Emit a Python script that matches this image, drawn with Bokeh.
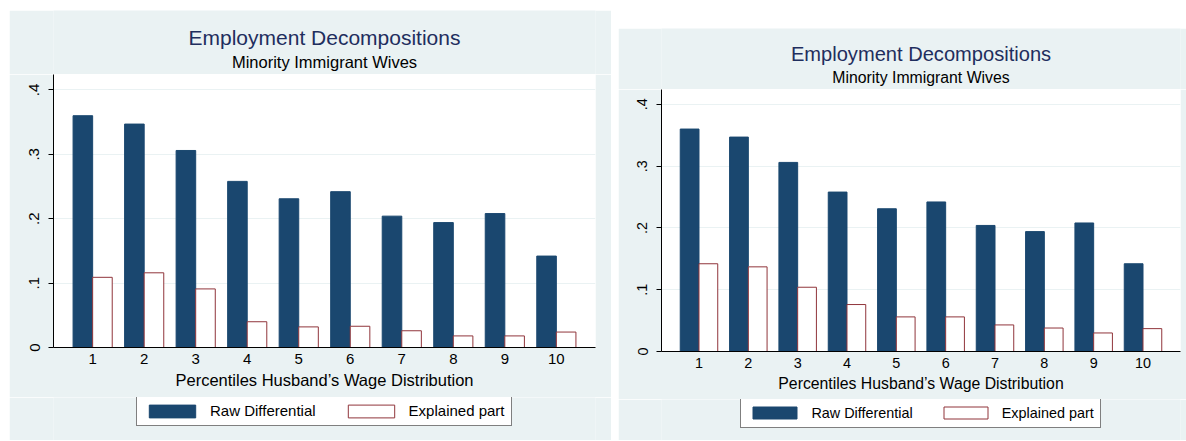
from bokeh.plotting import figure
from bokeh.models import (ColumnDataSource, Range1d, FixedTicker, Label, Legend,
                          LegendItem, Spacer)
from bokeh.layouts import row, column
from bokeh.transform import dodge
from bokeh.embed import file_html
from bokeh.resources import INLINE

# ---------------- data ----------------
categories = [1, 2, 3, 4, 5, 6, 7, 8, 9, 10]
raw_differential = [0.360, 0.347, 0.306, 0.258, 0.231, 0.242, 0.204, 0.194, 0.208, 0.142]
explained_left = [0.109, 0.116, 0.091, 0.040, 0.032, 0.033, 0.026, 0.018, 0.018, 0.024]
explained_right = [0.142, 0.137, 0.104, 0.076, 0.056, 0.056, 0.043, 0.038, 0.030, 0.037]
x_ticks = categories
x_tick_labels = [str(c) for c in categories]
y_ticks = [0, 0.1, 0.2, 0.3, 0.4]
y_tick_labels = ["0", ".1", ".2", ".3", ".4"]
title_text = "Employment Decompositions"
subtitle_text = "Minority Immigrant Wives"
xlabel_text = "Percentiles Husband\u2019s Wage Distribution"
legend_labels = ["Raw Differential", "Explained part"]

NAVY = "#1A476F"
MAROON = "#90353B"
PANEL = "#EAF2F3"
TITLE_C = "#1F2E5E"
FONT = "Liberation Sans"
NAN = float("nan")


def px(v):
    return f"{v:.1f}px"


def strip(width, height, frame_w):
    # text strip; its frame is aligned by the column layout with the plot frame
    f = figure(width=width, height=height, output_backend="svg", toolbar_location=None,
               x_range=Range1d(0, frame_w), y_range=Range1d(0, height),
               x_axis_type=None, y_axis_type=None, min_border=0)
    f.background_fill_color = PANEL
    f.border_fill_color = PANEL
    f.outline_line_color = None
    return f


def label(f, x, y, text, size, color="black"):
    f.add_layout(Label(x=x, y=y, text=text, text_align="center", text_baseline="middle",
                       text_font=FONT, text_font_size=px(size), text_color=color))


def main_plot(explained, width, height, mb, s):
    p = figure(width=width, height=height, output_backend="svg", toolbar_location=None,
               x_range=Range1d(0.24, 10.76), y_range=Range1d(0, 0.424),
               min_border_left=mb[0], min_border_right=mb[1],
               min_border_top=0, min_border_bottom=mb[2])
    p.border_fill_color = PANEL
    p.background_fill_color = "white"
    p.outline_line_color = None

    src = ColumnDataSource(dict(x=categories, raw=raw_differential, exp=explained))
    p.vbar(x=dodge("x", -0.19, range=p.x_range), top="raw", bottom=0, width=0.38,
           source=src, fill_color=NAVY, line_color=NAVY, line_width=1)
    p.vbar(x=dodge("x", 0.19, range=p.x_range), top="exp", bottom=0, width=0.38,
           source=src, fill_color="white", line_color=MAROON, line_width=1)

    xa = p.xaxis[0]
    xa.ticker = FixedTicker(ticks=x_ticks)
    xa.major_label_overrides = dict(zip(x_ticks, x_tick_labels))
    xa.major_tick_in = 0
    xa.major_tick_out = 0
    xa.minor_tick_line_color = None
    xa.axis_line_color = "black"
    xa.major_label_text_font = FONT
    xa.major_label_text_font_size = px(15 * s)
    xa.major_label_text_color = "black"
    xa.major_label_standoff = int(round(6 * s))
    xa.axis_label = xlabel_text
    xa.axis_label_text_font = FONT
    xa.axis_label_text_font_style = "normal"
    xa.axis_label_text_font_size = px(16.5 * s)
    xa.axis_label_text_color = "black"
    xa.axis_label_standoff = 4

    ya = p.yaxis[0]
    ya.ticker = FixedTicker(ticks=y_ticks)
    ya.major_label_overrides = dict(zip(y_ticks, y_tick_labels))
    ya.major_tick_in = 0
    ya.major_tick_out = 5
    ya.minor_tick_line_color = None
    ya.axis_line_color = "black"
    ya.major_tick_line_color = "black"
    ya.major_label_orientation = "vertical"
    ya.major_label_text_font = FONT
    ya.major_label_text_font_size = px(15 * s)
    ya.major_label_text_color = "black"
    ya.major_label_standoff = 9

    p.xgrid.visible = False
    p.ygrid.ticker = FixedTicker(ticks=y_ticks[1:])
    p.ygrid.grid_line_color = PANEL
    p.ygrid.grid_line_width = 1
    return p


def legend_strip(width, height, frame_w, s, lx, ly):
    f = strip(width, height, frame_w)
    # legend keys (a single NaN row: nothing is drawn on the canvas)
    key_src = ColumnDataSource(dict(x=[NAN], top=[NAN]))
    d1 = f.vbar(x="x", top="top", width=1, source=key_src, fill_color=NAVY, line_color=NAVY)
    d2 = f.vbar(x="x", top="top", width=1, source=key_src, fill_color="white",
                line_color=MAROON, line_width=1)
    legend = Legend(items=[LegendItem(label=legend_labels[0], renderers=[d1]),
                           LegendItem(label=legend_labels[1], renderers=[d2])],
                    location=(lx, ly), orientation="horizontal", margin=0,
                    padding=6, spacing=int(round(26 * s)), label_standoff=int(round(9 * s)),
                    glyph_width=int(round(57.6 * s)), glyph_height=int(round(16 * s)),
                    label_height=int(round(16 * s)),
                    label_text_font=FONT, label_text_font_size=px(15 * s),
                    label_text_color="black", border_line_color="black",
                    border_line_width=1, background_fill_color="white",
                    background_fill_alpha=1.0)
    f.add_layout(legend)
    return f


# ---------- left panel (x 9..611, y 10..440; plot frame x 53..595, y 74..347) ----------
LW, LFW = 602, 542
t1 = strip(LW, 64, LFW)
label(t1, LFW / 2, 37.1, title_text, 21, TITLE_C)
label(t1, LFW / 2, 12.9, subtitle_text, 16.5)
m1 = main_plot(explained_left, LW, 323, (44, 16, 50), 1.0)
b1 = legend_strip(LW, 43, LFW, 1.0, 83, 14)
left_panel = column(Spacer(width=LW, height=10), t1, m1, b1)

# ---------- right panel (x 618..1186, y 28..440; plot frame x 661..1180, y 89..351) ----------
RW, RFW = 568, 519
s = 0.959
t2 = strip(RW, 61, RFW)
label(t2, RFW / 2, 35.9, title_text, 21 * s, TITLE_C)
label(t2, RFW / 2, 12.1, subtitle_text, 16.5 * s)
m2 = main_plot(explained_right, RW, 310, (43, 6, 48), s)
b2 = legend_strip(RW, 41, RFW, s, 79.4, 12.3)
right_panel = column(Spacer(width=RW, height=28), t2, m2, b2)

layout = row(Spacer(width=9, height=440), left_panel,
             Spacer(width=7, height=440), right_panel)

open("out.html", "w").write(file_html(layout, INLINE))
